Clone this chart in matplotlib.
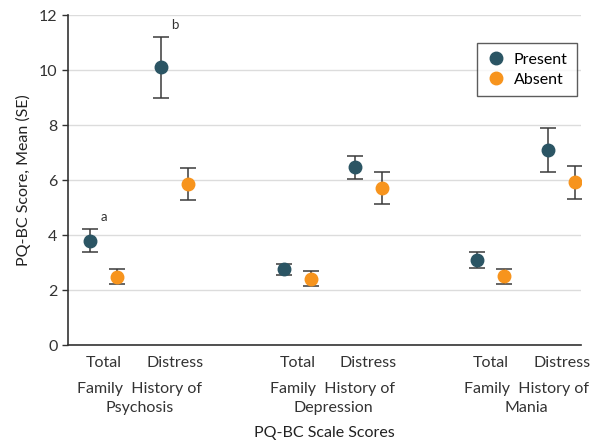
import matplotlib
matplotlib.use("Agg")
import matplotlib.pyplot as plt
from matplotlib.lines import Line2D
import numpy as np

plt.rcParams['font.family'] = ['Lato', 'DejaVu Sans']

groups = ["Family  History of\nPsychosis", "Family  History of\nDepression", "Family  History of\nMania"]
scales = ["Total", "Distress"]
present_mean = [3.80, 10.10, 2.75, 6.46, 3.09, 7.10]
present_se = [0.41, 1.10, 0.20, 0.41, 0.30, 0.80]
absent_mean = [2.48, 5.85, 2.41, 5.72, 2.50, 5.92]
absent_se = [0.27, 0.58, 0.27, 0.59, 0.27, 0.60]
annotations = ["a", "b", "", "", "", ""]

present_color = "#2b5564"
absent_color = "#f7941d"
fs = 11.5

fig = plt.figure(figsize=(5.96, 4.45), dpi=100)
ax = fig.add_axes([0.114, 0.2247, 0.861, 0.7413])

group_step = 2.725
centers = []
for g in range(len(groups)):
    for s in range(len(scales)):
        centers.append(g * group_step + s)
centers = np.array(centers)
off = 0.19

ax.errorbar(centers - off, present_mean, yerr=present_se, fmt='o', color=present_color,
            ecolor='#3a3a3a', elinewidth=1.1, capsize=6, capthick=1.1, markersize=9,
            zorder=3)
ax.errorbar(centers + off, absent_mean, yerr=absent_se, fmt='o', color=absent_color,
            ecolor='#3a3a3a', elinewidth=1.1, capsize=6, capthick=1.1, markersize=9,
            zorder=3)

for c, m, se, a in zip(centers, present_mean, present_se, annotations):
    if a:
        ax.text(c, m + se + 0.45, a, ha='center', va='center', fontsize=9.5, color='#333333')

ax.set_xlim(-0.507, centers[-1] + 0.27)
ax.set_ylim(0, 12)
ax.set_yticks(range(0, 13, 2))
ax.set_xticks(centers)
ax.set_xticklabels(scales * len(groups))
ax.tick_params(axis='x', length=0, pad=8, labelsize=fs, colors='#333333')
ax.tick_params(axis='y', length=4, labelsize=fs, colors='#333333', width=1)
ax.grid(axis='y', color='#dcdcdc', linewidth=1)
ax.set_axisbelow(True)
for sp in ['top', 'right']:
    ax.spines[sp].set_visible(False)
for sp in ['left', 'bottom']:
    ax.spines[sp].set_color('#333333')
    ax.spines[sp].set_linewidth(1.2)

ax.set_ylabel("PQ-BC Score, Mean (SE)", fontsize=fs, color='#222222', labelpad=6)

for g, name in enumerate(groups):
    gx = g * group_step + 0.5
    ax.text(gx, -0.112, name, transform=ax.get_xaxis_transform(), ha='center', va='top',
            fontsize=fs, color='#333333', linespacing=1.45)

fig.text(0.5 * (0.114 + 0.975), 0.027, "PQ-BC Scale Scores", ha='center', va='center',
         fontsize=fs, color='#222222')

handles = [Line2D([], [], marker='o', linestyle='none', color=present_color, markersize=9),
           Line2D([], [], marker='o', linestyle='none', color=absent_color, markersize=9)]
leg = ax.legend(handles, ["Present", "Absent"], loc='upper right', bbox_to_anchor=(0.992, 0.915),
                frameon=True, fancybox=False, fontsize=fs, handletextpad=0.5, borderpad=0.6,
                labelspacing=0.35, handlelength=1.2, borderaxespad=0)
leg.get_frame().set_edgecolor('#333333')
leg.get_frame().set_linewidth(1)

fig.savefig("out.png", dpi=100)
